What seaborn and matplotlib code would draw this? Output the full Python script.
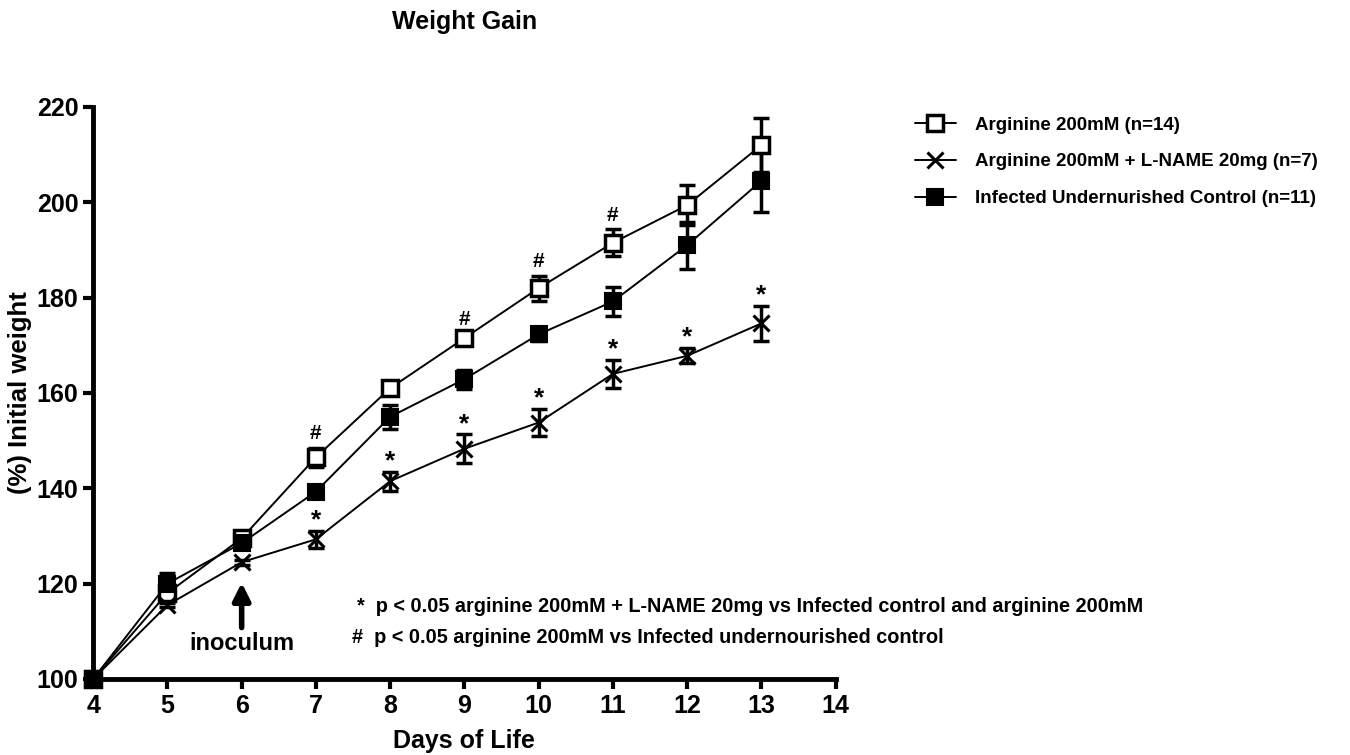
import matplotlib
matplotlib.use("Agg")
import matplotlib.pyplot as plt
from matplotlib.lines import Line2D
import numpy as np
import pandas as pd
import seaborn as sns

# data
days = [4, 5, 6, 7, 8, 9, 10, 11, 12, 13]

arg_mean = [100, 118, 129.5, 146.5, 161, 171.5, 182, 191.5, 199.4, 212]
arg_err = [0.5, 1.5, 1.0, 2.0, 1.2, 1.0, 2.6, 2.8, 4.2, 5.6]

lname_mean = [100, 115.5, 124.5, 129.3, 141.5, 148.3, 153.8, 164, 167.8, 174.6]
lname_err = [0.5, 0.5, 0.5, 1.8, 2.0, 3.0, 2.8, 2.9, 1.6, 3.6]

ctrl_mean = [100, 120, 128.5, 139.3, 155, 162.9, 172.3, 179.2, 191, 204.5]
ctrl_err = [0.5, 2.2, 1.0, 0.8, 2.5, 2.0, 1.5, 3.0, 4.9, 6.6]

labels = ["Arginine 200mM (n=14)",
          "Arginine 200mM + L-NAME 20mg (n=7)",
          "Infected Undernurished Control (n=11)"]

hash_days = [7, 9, 10, 11]
star_days = [7, 8, 9, 10, 11, 12, 13]

sns.set_style("ticks")
plt.rcParams['font.family'] = ['Liberation Sans', 'DejaVu Sans']
plt.rcParams['font.weight'] = 'bold'
plt.rcParams.update({'text.color': 'black', 'axes.labelcolor': 'black',
                     'xtick.color': 'black', 'ytick.color': 'black',
                     'axes.edgecolor': 'black'})

fig = plt.figure(figsize=(13.5, 7.55), dpi=100)
ax = fig.add_axes([0.069, 0.1007, 0.55, 0.7576])

series = [
    (arg_mean, arg_err, dict(marker='s', markerfacecolor='white', markeredgecolor='black',
                             markersize=12, markeredgewidth=2.5)),
    (lname_mean, lname_err, dict(marker='x', markeredgecolor='black',
                                 markersize=12, markeredgewidth=2.2)),
    (ctrl_mean, ctrl_err, dict(marker='s', markerfacecolor='black', markeredgecolor='black',
                               markersize=12, markeredgewidth=1.5)),
]

handles = []
for (m, e, mk), lab in zip(series, labels):
    df = pd.DataFrame({"day": days, "val": m})
    ax.errorbar(days, m, yerr=e, fmt='none', ecolor='black', elinewidth=2.5,
                capsize=6, capthick=2.5, zorder=2)
    sns.lineplot(data=df, x="day", y="val", ax=ax, color='black', linewidth=1.4,
                 zorder=3, **mk)
    handles.append(Line2D([0], [0], color='black', linewidth=1.4, label=lab, **mk))

# significance marks
for d in hash_days:
    i = days.index(d)
    ax.text(d, arg_mean[i] + arg_err[i] + 1.0, "#", ha='center', va='bottom',
            fontsize=15, fontweight='bold')
for d in star_days:
    i = days.index(d)
    ax.text(d, lname_mean[i] + lname_err[i] - 0.3, "*", ha='center', va='bottom',
            fontsize=19, fontweight='bold')

# inoculum arrow
ax.annotate("", xy=(6, 120.8), xytext=(6, 110.2),
            arrowprops=dict(arrowstyle='-|>', color='black', lw=4, mutation_scale=26))
ax.text(6, 107.4, "inoculum", ha='center', va='center', fontsize=17, fontweight='bold')

ax.text(7.56, 115.3, "*  p < 0.05 arginine 200mM + L-NAME 20mg vs Infected control and arginine 200mM",
        ha='left', va='center', fontsize=14.3, fontweight='bold')
ax.text(7.49, 108.8, "#  p < 0.05 arginine 200mM vs Infected undernourished control",
        ha='left', va='center', fontsize=14.3, fontweight='bold')

ax.set_xlim(4, 14)
ax.set_ylim(100, 220)
ax.set_xticks(range(4, 15))
ax.set_yticks(range(100, 221, 20))
ax.set_xlabel("Days of Life", fontsize=18, fontweight='bold')
ax.xaxis.set_label_coords(0.5, -0.088)
ax.set_ylabel("(%) Initial weight", fontsize=18.5, fontweight='bold')
ax.yaxis.set_label_coords(-0.083, 0.5)
ax.tick_params(axis='both', labelsize=18, width=3, length=7, direction='out')
for lab in ax.get_xticklabels() + ax.get_yticklabels():
    lab.set_fontweight('bold')
sns.despine(ax=ax)
for s in ['left', 'bottom']:
    ax.spines[s].set_linewidth(3.5)
for art in ax.lines + ax.collections:
    art.set_clip_on(False)

fig.text(0.344, 0.971, "Weight Gain", ha='center', va='center', fontsize=18, fontweight='bold')

fig.legend(handles=handles, loc='upper left', bbox_to_anchor=(0.665, 0.868), frameon=False,
           handlelength=2.2, labelspacing=1.05, handletextpad=1.0,
           prop={'weight': 'bold', 'size': 13.5})

fig.savefig("out.png", dpi=100)
